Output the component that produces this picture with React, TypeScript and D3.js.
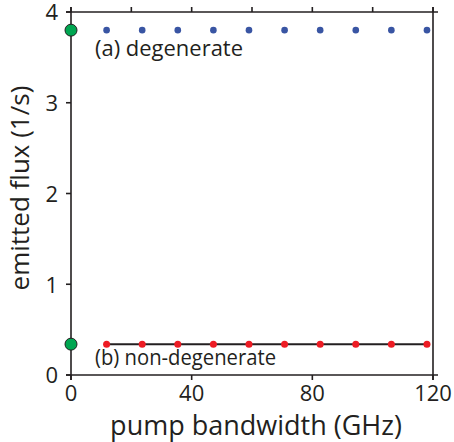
import React from "react";
import * as d3 from "d3";

// pump bandwidth (GHz) for the simulated points
const bandwidths = [11.8, 23.6, 35.4, 47.2, 59, 70.8, 82.6, 94.4, 106.2, 118];
// emitted flux (1/s)
const degenerateFlux = [3.8, 3.8, 3.8, 3.8, 3.8, 3.8, 3.8, 3.8, 3.8, 3.8];
const nonDegenerateFlux = [0.34, 0.34, 0.34, 0.34, 0.34, 0.34, 0.34, 0.34, 0.34, 0.34];
// green markers at zero bandwidth
const zeroBandwidthFlux = [3.8, 0.34];

const xTicks = [0, 40, 80, 120];
const xMinorTicks = [0, 20, 40, 60, 80, 100, 120];
const yTicks = [0, 1, 2, 3, 4];

const W = 454;
const H = 442;
const margin = { top: 12, right: 21, bottom: 67, left: 71 };
const font = "'Open Sans', sans-serif";

const App = () => {
  const width = W - margin.left - margin.right;
  const height = H - margin.top - margin.bottom;
  const x = d3.scaleLinear().domain([0, 120]).range([0, width]);
  const y = d3.scaleLinear().domain([0, 4]).range([height, 0]);
  const line = d3
    .line<number>()
    .x((d, i) => x(bandwidths[i]))
    .y((d) => y(d));

  return (
    <svg
      width={W}
      height={H}
      style={{ position: "absolute", left: 0, top: 0, background: "#fff" }}
    >
      <g transform={`translate(${margin.left},${margin.top})`}>
        {/* frame, edges run a little past the corners */}
        <g stroke="#231f20" strokeWidth={1.6}>
          <line x1={-5} x2={width + 5} y1={0} y2={0} />
          <line x1={-5} x2={width + 5} y1={height} y2={height} />
          <line x1={0} x2={0} y1={-5} y2={height + 5} />
          <line x1={width} x2={width} y1={-5} y2={height + 5} />
          {yTicks.map((t) => (
            <line key={"yt" + t} x1={-5} x2={0} y1={y(t)} y2={y(t)} />
          ))}
          {xTicks.map((t) => (
            <line key={"xt" + t} x1={x(t)} x2={x(t)} y1={height} y2={height + 5} />
          ))}
          {xMinorTicks.map((t) => (
            <line key={"xm" + t} x1={x(t)} x2={x(t)} y1={-5} y2={0} />
          ))}
        </g>

        <g fontFamily={font} fontSize={22} fill="#231f20">
          {yTicks.map((t) => (
            <text key={"yl" + t} x={-13} y={y(t)} dy="0.38em" textAnchor="end">
              {t}
            </text>
          ))}
          {xTicks.map((t) => (
            <text key={"xl" + t} x={x(t)} y={height + 26} textAnchor="middle">
              {t}
            </text>
          ))}
        </g>

        <text
          x={185}
          y={height + 60}
          textAnchor="middle"
          fontFamily={font}
          fontSize={27}
          fill="#231f20"
        >
          pump bandwidth (GHz)
        </text>
        <text
          transform={`translate(${-42},${y(2.06)}) rotate(-90)`}
          textAnchor="middle"
          fontFamily={font}
          fontSize={26}
          fill="#231f20"
        >
          emitted flux (1/s)
        </text>

        {/* (b) black connecting line under the red points */}
        <path d={line(nonDegenerateFlux) ?? ""} fill="none" stroke="#231f20" strokeWidth={2} />

        {degenerateFlux.map((v, i) => (
          <circle key={"a" + i} cx={x(bandwidths[i])} cy={y(v)} r={3.3} fill="#3955a3" />
        ))}
        {nonDegenerateFlux.map((v, i) => (
          <circle key={"b" + i} cx={x(bandwidths[i])} cy={y(v)} r={3.5} fill="#ed1c24" />
        ))}
        {zeroBandwidthFlux.map((v, i) => (
          <circle
            key={"g" + i}
            cx={x(0)}
            cy={y(v)}
            r={6}
            fill="#00a651"
            stroke="#231f20"
            strokeWidth={1}
          />
        ))}

        <g fontFamily={font} fontSize={21} fill="#231f20">
          <text x={24} y={y(3.8) + 26} textLength={148} lengthAdjust="spacingAndGlyphs">
            (a) degenerate
          </text>
          <text x={24} y={y(0.34) + 21} textLength={181} lengthAdjust="spacingAndGlyphs">
            (b) non-degenerate
          </text>
        </g>
      </g>
    </svg>
  );
};

export default App;
